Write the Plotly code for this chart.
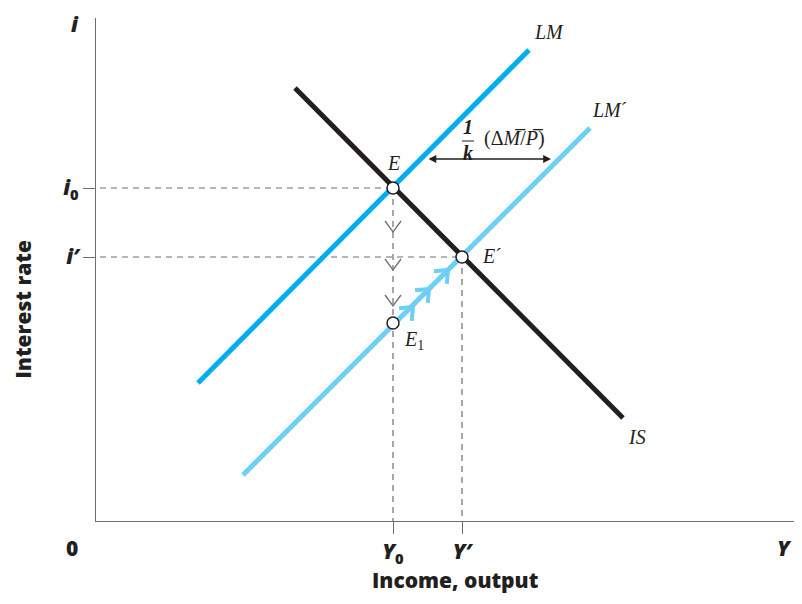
import numpy as np
import plotly.graph_objects as go

# chart units: income on x, interest rate on y, origin at (0, 0)
Y0, Y_prime = 297, 366
i0, i_prime = 333, 264
i_E1 = 198

lm_x, lm_y = [102, 433], [138, 471]
lm2_x, lm2_y = [147, 494], [46, 393]
is_x, is_y = [199, 527], [433, 103]

# adjustment path markers
down_arrow_y = [289, 251, 215]
path_arrow_x = [317, 333, 352]
path_arrow_y = [214, 232, 251]

shift_from, shift_to, shift_level = 331, 455, 362

X_MAX, I_MAX = 698, 503

GREY = "#6d6e71"
INK = "#231f20"
LIGHT = "#6dcff6"
DARK = "#00aeef"
DASH = dict(color=GREY, width=1.2, dash="6px,5px")
SANS = "Open Sans"
SERIF = "Liberation Serif"

fig = go.Figure()

# guide lines
fig.add_trace(go.Scatter(x=[4, Y0], y=[i0, i0], mode="lines", line=DASH))
fig.add_trace(go.Scatter(x=[4, Y_prime], y=[i_prime, i_prime], mode="lines", line=DASH))
fig.add_trace(go.Scatter(x=[Y0, Y0], y=[i0, -12], mode="lines", line=DASH, cliponaxis=False))
fig.add_trace(go.Scatter(x=[Y_prime, Y_prime], y=[i_prime, -12], mode="lines", line=DASH, cliponaxis=False))

cx, cy = [], []
for y in down_arrow_y:
    cx += [Y0 - 8, Y0, Y0 + 8, None]
    cy += [y + 11, y, y + 11, None]
fig.add_trace(go.Scatter(x=cx, y=cy, mode="lines", line=dict(color=GREY, width=1.3)))

# curves
fig.add_trace(go.Scatter(x=lm_x, y=lm_y, mode="lines", line=dict(color=DARK, width=5)))
fig.add_trace(go.Scatter(x=lm2_x, y=lm2_y, mode="lines", line=dict(color=LIGHT, width=5)))
fig.add_trace(go.Scatter(x=is_x, y=is_y, mode="lines", line=dict(color=INK, width=5)))

# movement from E1 to E'
ax_, ay_ = [], []
for x, y in zip(path_arrow_x, path_arrow_y):
    bx = by = -np.sqrt(0.5) * 14
    for s in (1, -1):
        a = np.radians(40) * s
        ax_ += [x + bx * np.cos(a) - by * np.sin(a), x]
        ay_ += [y + bx * np.sin(a) + by * np.cos(a), y]
    ax_.append(None)
    ay_.append(None)
fig.add_trace(go.Scatter(x=ax_, y=ay_, mode="lines", line=dict(color=LIGHT, width=4)))

# equilibrium points
fig.add_trace(go.Scatter(
    x=[Y0, Y_prime, Y0], y=[i0, i_prime, i_E1], mode="markers",
    marker=dict(size=12, color="white", line=dict(color=INK, width=1.5)),
))

# shift of LM
fig.add_annotation(x=shift_to, y=shift_level, ax=shift_from, ay=shift_level,
                   xref="x", yref="y", axref="x", ayref="y",
                   text="", showarrow=True, arrowhead=2, arrowside="end+start",
                   arrowsize=1.2, arrowwidth=1.3, arrowcolor=INK)
fig.add_shape(type="line", x0=366, x1=378, y0=380, y1=380, line=dict(color=INK, width=1))

serif = dict(family=SERIF, size=20, color=INK)
for txt, x, y in [("<i>LM</i>", 453, 489), ("<i>LM</i>´", 513, 411), ("<i>IS</i>", 541, 84),
                  ("<i>E</i>", 297, 358), ("<i>E</i>´", 396, 265), ("<i>E</i><sub>1</sub>", 318, 181),
                  ("<b><i>1</i></b>", 372, 394), ("<b><i>k</i></b>", 372, 368),
                  ("(Δ<i>M</i>\u0305/<i>P</i>\u0305)", 418, 383)]:
    fig.add_annotation(x=x, y=y, text=txt, showarrow=False, font=serif)

sans = dict(family=SANS, size=21, color=INK, weight=800)
for txt, x, y, ang, ya in [("<i>i</i>", -0.03, 1.02, 0, "top"), ("0", -0.034, -0.054, 0, "middle"),
                           ("<i>Y</i>", 0.987, -0.054, 0, "middle"),
                           ("Income, output", 0.515, -0.149, 0, "bottom"),
                           ("Interest rate", -0.105, 0.42, -90, "middle")]:
    fig.add_annotation(x=x, y=y, xref="paper", yref="paper", text=txt, showarrow=False,
                       xanchor="center", yanchor=ya, font=sans, textangle=ang)

# page body has an 8px margin, so the figure is kept 16px smaller than the window
fig.update_layout(
    width=786, height=588, showlegend=False,
    margin=dict(l=88, r=0, t=10, b=75),
    plot_bgcolor="white", paper_bgcolor="white",
)
fig.update_xaxes(range=[0, X_MAX], showgrid=False, zeroline=False, automargin=False,
                 showline=True, linecolor=GREY, linewidth=1.3,
                 ticks="outside", ticklen=12, tickcolor=GREY, tickwidth=1.2,
                 tickvals=[Y0, Y_prime], ticktext=["<i>Y</i><sub>0</sub>", "<i>Y′</i>"],
                 tickfont=sans)
fig.update_yaxes(range=[0, I_MAX], showgrid=False, zeroline=False, automargin=False,
                 showline=True, linecolor=GREY, linewidth=1.3,
                 ticks="outside", ticklen=12, tickcolor=GREY, tickwidth=1.2,
                 tickvals=[i0, i_prime], ticktext=["<i>i</i><sub>0</sub>", "<i>i′</i>"],
                 tickfont=sans, ticklabelstandoff=0)

fig.write_html("out.html")
